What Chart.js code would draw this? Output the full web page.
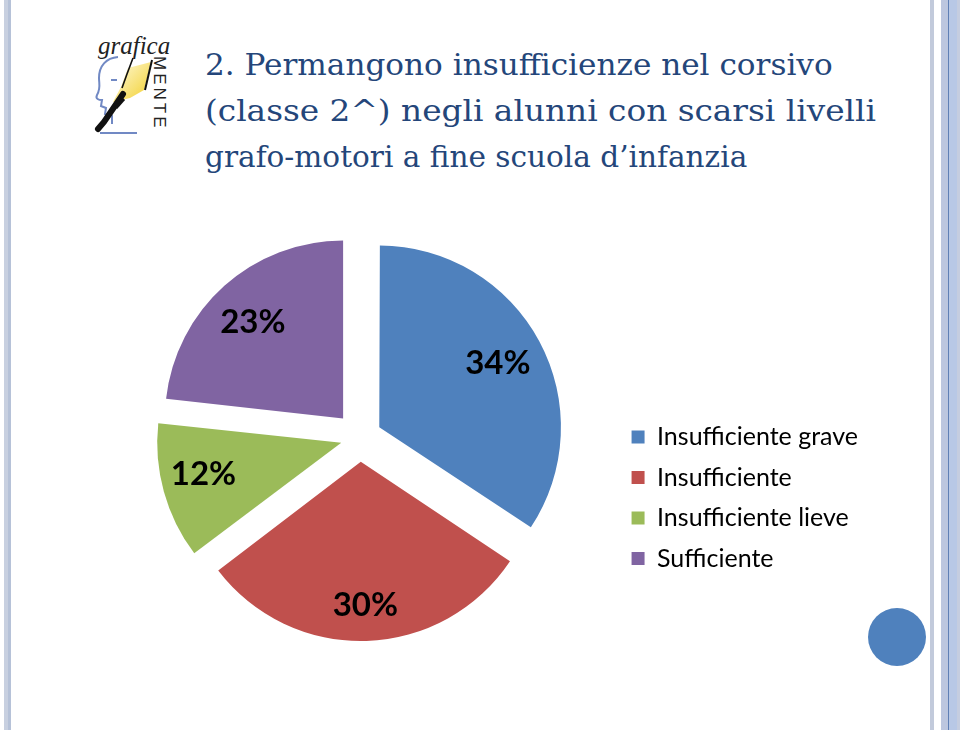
<!DOCTYPE html>
<html>
<head>
<meta charset="utf-8">
<script src="https://cdn.jsdelivr.net/npm/chart.js@4.4.1/dist/chart.umd.min.js"></script>
<style>
  html, body { margin: 0; padding: 0; background: #fff; }
  body { width: 960px; height: 730px; position: relative; overflow: hidden; }
  .bar { position: absolute; top: 0; height: 730px; }
  #title {
    position: absolute; left: 205px; top: 42px;
    font-family: "DejaVu Serif", serif; font-size: 30px; line-height: 46px;
    color: #24467a; white-space: nowrap;
  }
  #title div { transform-origin: left center; }
  #logo { position: absolute; left: 0; top: 0; }
  #chartBox { position: absolute; left: 104px; top: 217px; width: 764px; height: 441px; }
  #dot { position: absolute; left: 868px; top: 608px; width: 58px; height: 58px; border-radius: 50%; background: #4f81bd; }
</style>
</head>
<body>
<div class="bar" style="left:4px;width:4px;background:#c8d0e0"></div>
<div class="bar" style="left:8px;width:3px;background:#b6c2d8"></div>
<div class="bar" style="left:930px;width:4px;background:#c2cadb"></div>
<div class="bar" style="left:941px;width:7px;background:#bcc6df"></div>
<div class="bar" style="left:948px;width:1px;background:#5f7fb5"></div>
<div class="bar" style="left:949px;width:8px;background:#b8c8e6"></div>
<div class="bar" style="left:957px;width:3px;background:#c5cde0"></div>

<svg id="logo" width="200" height="150" viewBox="0 0 200 150">
  <defs>
    <linearGradient id="paper" x1="0" y1="0" x2="1" y2="1">
      <stop offset="0" stop-color="#fffbe0"/>
      <stop offset="1" stop-color="#f2cf2a"/>
    </linearGradient>
  </defs>
  <text x="98" y="54" font-family="Liberation Serif" font-style="italic" font-size="25" fill="#222">grafica</text>
  <text x="0" y="0" transform="translate(154,56) rotate(90)" font-family="Liberation Sans" font-size="17" letter-spacing="3" fill="#222">MENTE</text>
  <path d="M118 57 C106 58 99 66 99 78 C99 84 101 88 97 95 C95 99 99 100 102 100 L101 106 L106 108 L105 114 L112 116 L112 124" fill="none" stroke="#7189c4" stroke-width="2"/>
  <path d="M111 80 L117 80" stroke="#7189c4" stroke-width="2"/>
  <path d="M128 68 L151 62 L144 90 L130 98 L113 102 L121 87 Z" fill="url(#paper)"/>
  <path d="M133 58 L127 74 L122 88" stroke="#111" stroke-width="1.6" fill="none"/>
  <path d="M152 60 L145 90" stroke="#111" stroke-width="2" fill="none"/>
  <path d="M123 94 L104 122 L98 129" stroke="#111" stroke-width="6" stroke-linecap="round" fill="none"/>
  <path d="M124 99 L116 108" stroke="#111" stroke-width="3" fill="none"/>
  <path d="M100 133 L137 133" stroke="#7189c4" stroke-width="2"/>
</svg>

<div id="title">
  <div>2. Permangono insufficienze nel corsivo</div>
  <div>(classe 2^) negli alunni con scarsi livelli</div>
  <div>grafo-motori a fine scuola d’infanzia</div>
</div>

<div id="chartBox"><canvas id="pie"></canvas></div>
<div id="dot"></div>

<script>
const categories = ['Insufficiente grave', 'Insufficiente', 'Insufficiente lieve', 'Sufficiente'];
const percentages = [34, 30, 12, 23];
const sliceColors = ['#4f81bd', '#c0504d', '#9bbb59', '#8064a2'];

// the title lines are stretched to the widths they have on the slide
const lineWidths = [637, 671, 605];
document.querySelectorAll('#title div').forEach((el, i) => {
  const w = el.getBoundingClientRect().width;
  el.style.transform = 'scaleX(' + (lineWidths[i] / w) + ')';
});

const total = percentages.reduce((a, b) => a + b, 0);
const explode = 25.5; // how far each slice is pulled out, px

// chart.js moves an arc by offset/4 * (2 - sin(circumference)), so undo that
const sliceOffset = (ctx) => {
  const circ = ctx.dataset.data[ctx.dataIndex] / total * Math.PI * 2;
  return 4 * explode / (2 - Math.sin(Math.min(Math.PI, circ)));
};

const pctLabels = {
  id: 'pctLabels',
  afterDatasetsDraw(chart, args, opts) {
    const { ctx } = chart;
    const meta = chart.getDatasetMeta(0);
    ctx.save();
    ctx.font = 'bold 33px Lato';
    ctx.fillStyle = '#000';
    ctx.textAlign = 'center';
    ctx.textBaseline = 'middle';
    meta.data.forEach((arc, i) => {
      const { x, y, startAngle, endAngle, outerRadius } = arc.getProps(['x', 'y', 'startAngle', 'endAngle', 'outerRadius'], true);
      const mid = (startAngle + endAngle) / 2 + opts.turn[i];
      const circ = endAngle - startAngle;
      const shift = (arc.options.offset / 4) * (2 - Math.sin(Math.min(Math.PI, circ)));
      const dist = shift + outerRadius * opts.radial[i];
      ctx.fillText(percentages[i] + '%', x + Math.cos(mid) * dist, y + Math.sin(mid) * dist);
    });
    ctx.restore();
  }
};

new Chart(document.getElementById('pie'), {
  type: 'pie',
  data: {
    labels: categories,
    datasets: [{
      data: percentages,
      backgroundColor: sliceColors,
      borderWidth: 0,
      offset: sliceOffset,
      hoverOffset: 0
    }]
  },
  options: {
    responsive: true,
    maintainAspectRatio: false,
    animation: false,
    radius: 178,
    layout: { padding: 0 },
    plugins: {
      tooltip: { enabled: false },
      pctLabels: { radial: [0.735, 0.80, 0.76, 0.74], turn: [0, 0, 0.04, -0.02] },
      legend: {
        position: 'right',
        align: 'center',
        title: { display: true, text: ' ', font: { size: 10 }, padding: { top: 0, bottom: 108.5 } },
        labels: {
          boxWidth: 13,
          boxHeight: 13,
          padding: 15.5,
          color: '#000',
          font: { family: 'Lato', size: 25 }
        }
      }
    }
  },
  plugins: [pctLabels]
});
</script>
</body>
</html>
